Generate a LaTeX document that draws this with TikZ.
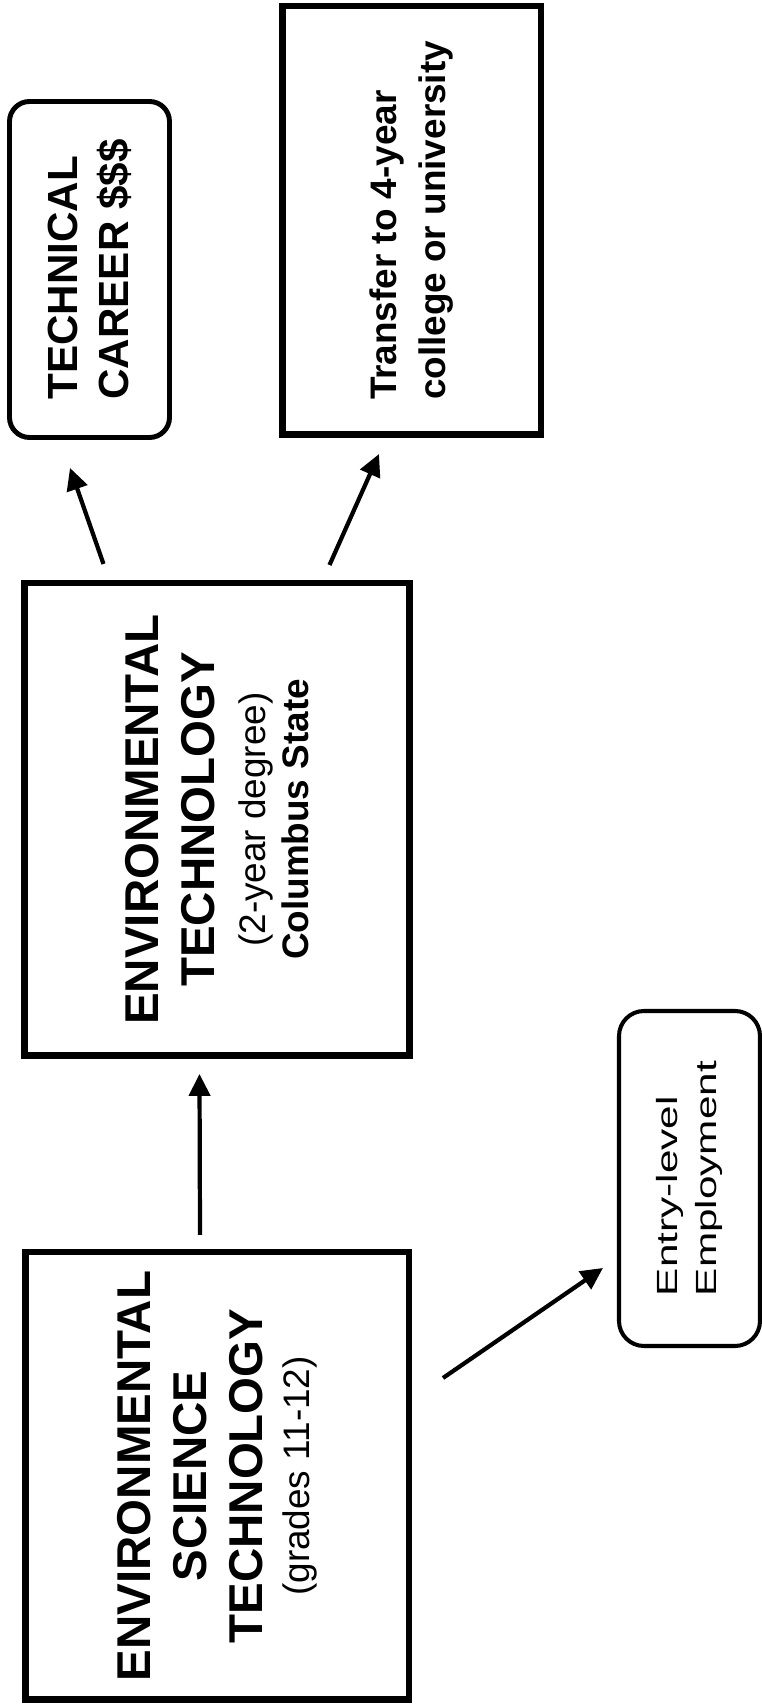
\documentclass[tikz,border=0pt]{standalone}
\usepackage{fontspec}
\setmainfont{Liberation Sans}
\newfontfamily\widesans[FakeStretch=1.45]{Liberation Sans}
\usetikzlibrary{arrows.meta, positioning, calc}
\tikzset{
  stage/.style={
    rectangle, draw=black, line width=3.7pt,
    align=center,
    font=\bfseries\fontsize{27}{32}\selectfont
  },
  goal/.style={
    rectangle, draw=black, line width=3.7pt,
    align=left,
    font=\bfseries\fontsize{21}{28}\selectfont
  },
  outcome/.style={
    rectangle, rounded corners=0.4cm,
    draw=black, line width=2.8pt,
    align=left
  },
  arr/.style={-{Triangle[length=12.5pt, width=12pt]}, line width=2.4pt}
}
\begin{document}
\begin{tikzpicture}
  \useasboundingbox (0,0) rectangle (15.24,34.08);

  % the chart is set sideways on the page
  \begin{scope}[rotate=90, transform shape]

  % ---- Nodes ----
  \node[stage, minimum width=8.95cm, minimum height=7.67cm] (est) at (4.56,-4.34)
    {ENVIRONMENTAL\\SCIENCE\\TECHNOLOGY\\[-5.4pt]\mdseries\fontsize{21}{24}\selectfont (grades 11-12)};

  \node[stage, minimum width=9.45cm, minimum height=7.69cm, right=3.8cm of est] (envtech)
    {ENVIRONMENTAL\\TECHNOLOGY\\[-3.1pt]\mdseries\fontsize{21}{24}\selectfont (2-year degree)\\[-7.6pt]\fontsize{21}{24}\selectfont Columbus State};

  \node[outcome, minimum width=6.72cm, minimum height=3.2cm,
        font=\bfseries\fontsize{24}{29}\selectfont] (career) at (28.69,-1.79)
    {TECHNICAL\\CAREER \$\$\$};

  \node[goal, minimum width=8.57cm, minimum height=5.17cm] (transfer) at (29.67,-8.23)
    {Transfer to 4-year\\college or university};

  \node[outcome, rounded corners=0.5cm, line width=2.3pt,
        minimum width=6.7cm, minimum height=2.82cm,
        font=\widesans\fontsize{16.6}{22.7}\selectfont] (entry) at (10.51,-13.79)
    {Entry-level\\Employment};

  % ---- Arrows ----
  \draw[arr] ($(est.east)+(0.28,0.34)$) -- ($(envtech.west)+(-0.3,0.35)$);
  \draw[arr] ($(envtech.east)+(0.32,2.27)$) -- ($(career.west)+(-0.56,0.39)$);
  \draw[arr] ($(envtech.east)+(0.30,-2.25)$) -- ($(transfer.west)+(-0.32,0.65)$);
  \draw[arr] ($(est.south)+(1.96,-0.62)$) -- ($(entry.north)+(-1.79,0.28)$);

  \end{scope}
\end{tikzpicture}
\end{document}
